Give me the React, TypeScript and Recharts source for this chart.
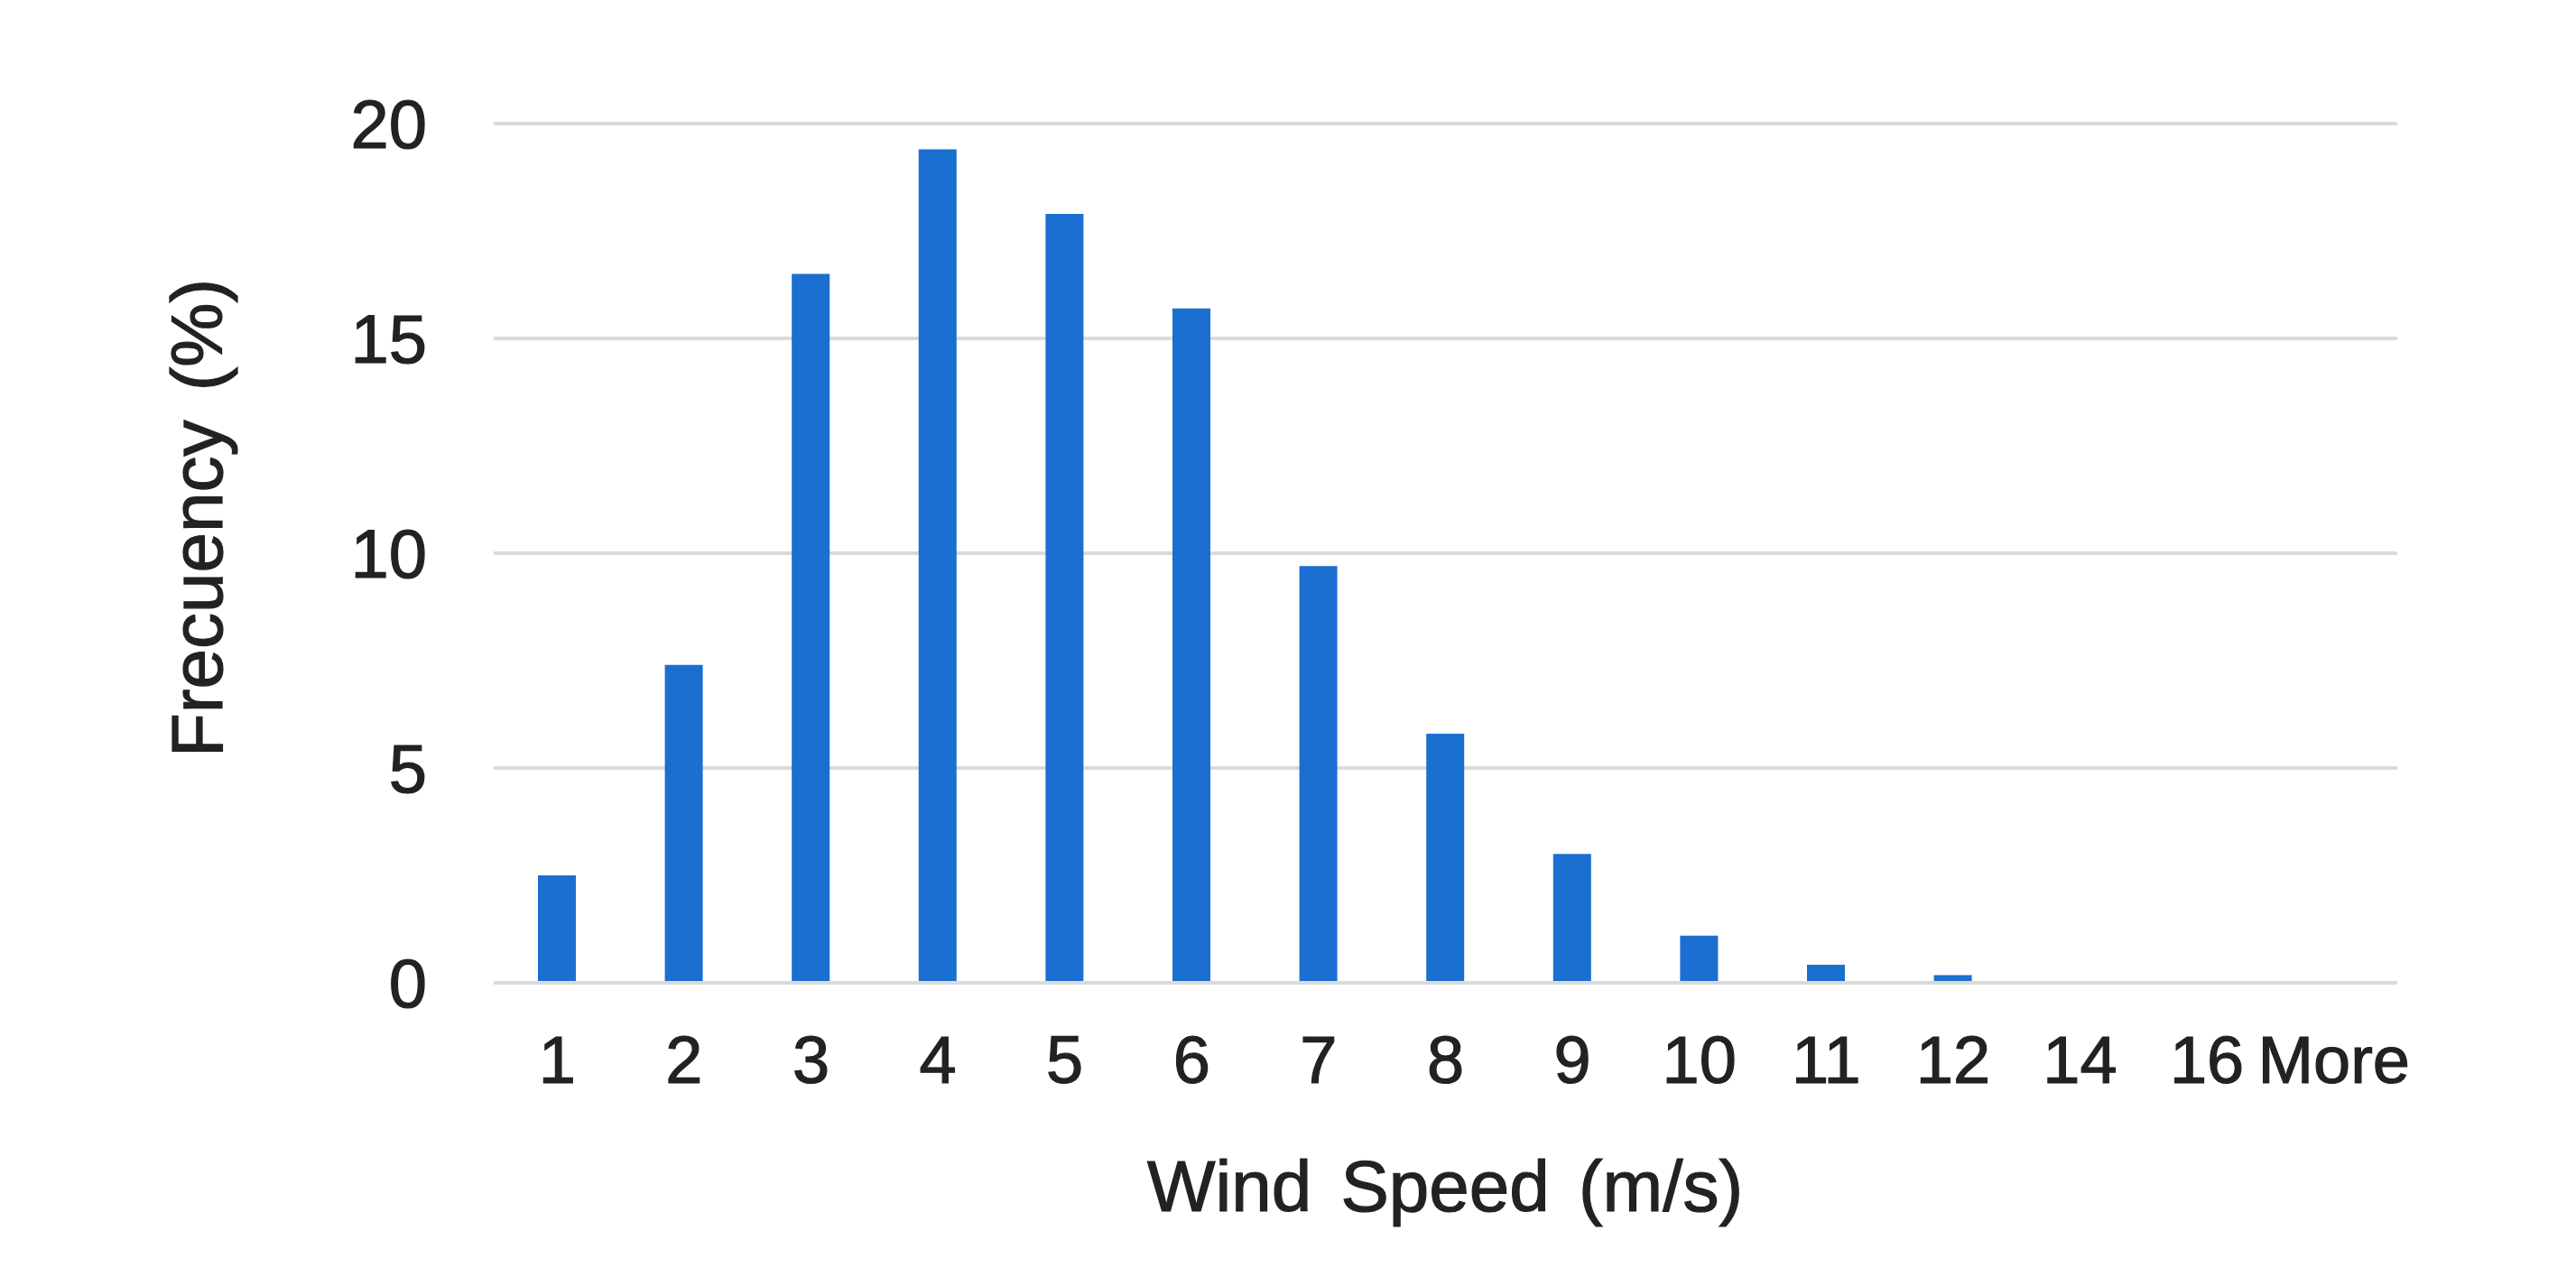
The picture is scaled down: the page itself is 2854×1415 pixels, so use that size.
import React from 'react';
import { BarChart, Bar, XAxis, YAxis, CartesianGrid, Label } from 'recharts';

const categories = ['1', '2', '3', '4', '5', '6', '7', '8', '9', '10', '11', '12', '14', '16', 'More'];
const frequency = [2.5, 7.4, 16.5, 19.4, 17.9, 15.7, 9.7, 5.8, 3.0, 1.1, 0.42, 0.18, 0, 0, 0];
const yTicks = [0, 5, 10, 15, 20];
const xTitle = 'Wind Speed (m/s)';
const yTitle = 'Frecuency (%)';

const data = categories.map((c, i) => ({ bin: c, freq: frequency[i] }));

const FONT = '"Liberation Sans", Arial, sans-serif';
const TEXT = '#222222';
const GRID = '#dadada';
const BAR = '#1a6fd0';

export default function App() {
  return (
    <div style={{ width: 2854, height: 1415, background: '#fff' }}>
      <style>{'body{margin:0;overflow:hidden}'}</style>
      <BarChart
        width={2854}
        height={1415}
        data={data}
        margin={{ top: 137, right: 198, bottom: 126, left: 0 }}
        barCategoryGap={0}
      >
        <CartesianGrid vertical={false} stroke={GRID} strokeWidth={4} />
        <XAxis
          dataKey="bin"
          height={200}
          tickLine={false}
          tickSize={0}
          tickMargin={58}
          axisLine={{ stroke: GRID, strokeWidth: 4 }}
          tick={{ fill: TEXT, stroke: TEXT, strokeWidth: 1.2, fontSize: 74, fontFamily: FONT }}
          interval={0}
        >
          <Label
            content={() => (
              <text
                x={1601}
                y={1342}
                textAnchor="middle"
                fill={TEXT}
                stroke={TEXT}
                strokeWidth={1.2}
                fontSize={80}
                fontFamily={FONT}
                style={{ wordSpacing: 10 }}
              >
                {xTitle}
              </text>
            )}
          />
        </XAxis>
        <YAxis
          width={547}
          domain={[0, 20]}
          ticks={yTicks}
          tickLine={false}
          tickSize={0}
          tickMargin={74}
          axisLine={false}
          tick={{ fill: TEXT, stroke: TEXT, strokeWidth: 1.2, fontSize: 76, fontFamily: FONT }}
        >
          <Label
            content={() => (
              <text
                x={246}
                y={574}
                transform="rotate(-90 246 574)"
                textAnchor="middle"
                fill={TEXT}
                stroke={TEXT}
                strokeWidth={1.2}
                fontSize={80}
                fontFamily={FONT}
                style={{ wordSpacing: 10 }}
              >
                {yTitle}
              </text>
            )}
          />
        </YAxis>
        <Bar dataKey="freq" fill={BAR} barSize={42} isAnimationActive={false} />
      </BarChart>
    </div>
  );
}
